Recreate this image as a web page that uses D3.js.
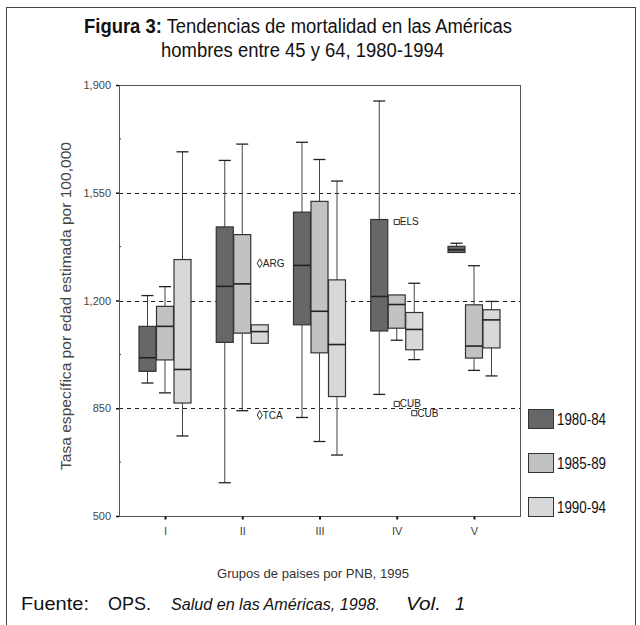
<!DOCTYPE html>
<html>
<head>
<meta charset="utf-8">
<script src="https://cdn.jsdelivr.net/npm/d3@7"></script>
<style>
  body { margin: 0; background: #fff; }
  svg { display: block; }
</style>
</head>
<body>
<div id="chart-area"></div>
<script>
// mortality box plot, groups of countries by GNP

const categories = ['I', 'II', 'III', 'IV', 'V'];
const periods = ['1980-84', '1985-89', '1990-94'];
const yTicks = [500, 850, 1200, 1550, 1900];
const yMinor = [675, 1025, 1375, 1725];
const refLines = [850, 1200, 1550];

// [whisker low, q1, median, q3, whisker high] per category
const stats8084 = [
  [932, 970, 1014, 1116, 1216],
  [608, 1064, 1246, 1439, 1655],
  [820, 1121, 1314, 1487, 1714],
  [895, 1101, 1213, 1463, 1848],
  [1356, 1356, 1365, 1376, 1386]
];
const stats8589 = [
  [900, 1007, 1116, 1181, 1245],
  [842, 1094, 1254, 1414, 1708],
  [742, 1030, 1165, 1522, 1658],
  [1071, 1110, 1187, 1218, 1218],
  [973, 1013, 1052, 1186, 1313]
];
const stats9094 = [
  [760, 867, 976, 1333, 1683],
  [1061, 1061, 1099, 1121, 1121],
  [698, 888, 1057, 1267, 1588],
  [1008, 1040, 1106, 1161, 1256],
  [955, 1046, 1137, 1170, 1197]
];

const outliers = [
  { cat: 'II', period: 2, value: 1321, label: 'ARG', shape: 'diamond' },
  { cat: 'II', period: 2, value: 828, label: 'TCA', shape: 'diamond' },
  { cat: 'IV', period: 1, value: 1455, label: 'ELS', shape: 'square' },
  { cat: 'IV', period: 1, value: 864, label: 'CUB', shape: 'square' },
  { cat: 'IV', period: 2, value: 834, label: 'CUB', shape: 'square' }
];

const widthSvg = 640;
const heightSvg = 625;
const plot = { left: 119, right: 520, top: 85, bottom: 516 };
const fills = ['#676767', '#c2c2c2', '#d8d8d8'];
const boxW = 17;
const offsets = [-17.5, 0, 17.5];
const capW = 12;
const font = "'Liberation Sans', Arial, sans-serif";

const allStats = [stats8084, stats8589, stats9094];

const scaleY = d3.scaleLinear()
  .domain([500, 1900])
  .range([plot.bottom, plot.top]);

const scaleX = d3.scalePoint()
  .domain(categories)
  .range([165, 474]);

const svg = d3.select('#chart-area')
  .append('svg')
    .attr('width', widthSvg)
    .attr('height', heightSvg)
    .attr('font-family', font);

// squeezes a text to the width it has in the original
const fit = (sel, len) => sel
  .attr('textLength', len)
  .attr('lengthAdjust', 'spacingAndGlyphs');

// outer frame
svg.append('rect')
  .attr('x', 6.5)
  .attr('y', 7.5)
  .attr('width', 629)
  .attr('height', 640)
  .attr('fill', 'none')
  .attr('stroke', '#444');

// title
const title1 = svg.append('text')
  .attr('x', 84)
  .attr('y', 33)
  .attr('font-size', 20)
  .attr('fill', '#111');
title1.append('tspan')
  .attr('font-weight', 'bold')
  .text('Figura 3:');
title1.append('tspan')
  .text(' Tendencias de mortalidad en las Américas');
fit(title1, 428);

fit(svg.append('text')
  .attr('x', 161)
  .attr('y', 57)
  .attr('font-size', 20)
  .attr('fill', '#111')
  .text('hombres entre 45 y 64, 1980-1994'), 283);

// reference lines
svg.append('g')
  .selectAll('line')
  .data(refLines)
  .join('line')
    .attr('x1', plot.left)
    .attr('x2', plot.right)
    .attr('y1', d => Math.round(scaleY(d)) + 0.5)
    .attr('y2', d => Math.round(scaleY(d)) + 0.5)
    .attr('stroke', '#222')
    .attr('stroke-dasharray', '4,4');

// plot frame
svg.append('rect')
  .attr('x', plot.left + 0.5)
  .attr('y', plot.top + 0.5)
  .attr('width', plot.right - plot.left)
  .attr('height', plot.bottom - plot.top)
  .attr('fill', 'none')
  .attr('stroke', '#555');

// boxes
allStats.forEach((stats, p) => {
  const g = svg.append('g');
  stats.forEach((s, i) => {
    const [lo, q1, med, q3, hi] = s;
    const cx = scaleX(categories[i]) + offsets[p];

    // whiskers
    [[q3, hi], [q1, lo]].forEach(([from, to]) => {
      if (from === to) return;
      g.append('line')
        .attr('x1', cx).attr('x2', cx)
        .attr('y1', scaleY(from)).attr('y2', scaleY(to))
        .attr('stroke', '#444');
      g.append('line')
        .attr('x1', cx - capW / 2).attr('x2', cx + capW / 2)
        .attr('y1', scaleY(to)).attr('y2', scaleY(to))
        .attr('stroke', '#222')
        .attr('stroke-width', 1.3);
    });

    g.append('rect')
      .attr('x', cx - boxW / 2)
      .attr('y', scaleY(q3))
      .attr('width', boxW)
      .attr('height', scaleY(q1) - scaleY(q3))
      .attr('fill', fills[p])
      .attr('stroke', '#333')
      .attr('stroke-width', 1.2);

    g.append('line')
      .attr('x1', cx - boxW / 2).attr('x2', cx + boxW / 2)
      .attr('y1', scaleY(med)).attr('y2', scaleY(med))
      .attr('stroke', '#222')
      .attr('stroke-width', 1.6);
  });
});

// outliers
const outG = svg.append('g');
outliers.forEach(o => {
  const cx = scaleX(o.cat) + offsets[o.period];
  const cy = scaleY(o.value);
  const sym = o.shape === 'diamond' ? d3.symbolDiamond : d3.symbolSquare;
  outG.append('path')
    .attr('d', d3.symbol(sym, o.shape === 'diamond' ? 22 : 26)())
    .attr('transform', `translate(${cx}, ${cy})`)
    .attr('fill', 'none')
    .attr('stroke', '#333');
  outG.append('text')
    .attr('x', cx + 3)
    .attr('y', cy + 3.5)
    .attr('font-size', 10)
    .attr('fill', '#222')
    .text(o.label);
});

// y axis
const axisY = d3.axisLeft(scaleY)
  .tickValues(yTicks)
  .tickSize(3)
  .tickPadding(5)
  .tickFormat(d3.format(',.0f'));

const gY = svg.append('g')
  .attr('transform', `translate(${plot.left}, 0)`)
  .call(axisY);
gY.select('.domain').remove();
gY.selectAll('.tick line').attr('stroke', '#111').attr('stroke-width', 1.5);
gY.selectAll('.tick text')
  .attr('font-family', font)
  .attr('font-size', 11)
  .attr('fill', '#444');

svg.append('g')
  .selectAll('line')
  .data(yMinor)
  .join('line')
    .attr('x1', plot.left)
    .attr('x2', plot.left + 2)
    .attr('y1', d => scaleY(d))
    .attr('y2', d => scaleY(d))
    .attr('stroke', '#333');

// x axis
const axisX = d3.axisBottom(scaleX)
  .tickSize(3)
  .tickPadding(8);

const gX = svg.append('g')
  .attr('transform', `translate(0, ${plot.bottom + 0.5})`)
  .call(axisX);
gX.select('.domain').remove();
gX.selectAll('.tick line').attr('stroke', '#111').attr('stroke-width', 2);
gX.selectAll('.tick text')
  .attr('font-family', font)
  .attr('font-size', 11)
  .attr('fill', '#444');

// axis labels
fit(svg.append('text')
  .text('Tasa específica por edad estimada por 100,000')
    .attr('text-anchor', 'middle')
    .attr('font-size', 14)
    .attr('fill', '#444')
    .attr('transform', `translate(71, 306)rotate(-90)`), 328);

fit(svg.append('text')
  .text('Grupos de paises por PNB, 1995')
    .attr('x', 313)
    .attr('y', 578)
    .attr('text-anchor', 'middle')
    .attr('font-size', 13)
    .attr('fill', '#333'), 192);

// legend
const legend = svg.append('g')
  .attr('transform', 'translate(528, 409)');

periods.forEach((period, i) => {
  const row = legend.append('g')
    .attr('transform', `translate(0, ${i * 44})`);
  row.append('rect')
    .attr('x', 0.5)
    .attr('y', 0.5)
    .attr('width', 25)
    .attr('height', 19)
    .attr('fill', fills[i])
    .attr('stroke', '#333');
  fit(row.append('text')
    .attr('x', 29)
    .attr('y', 16)
    .attr('font-size', 16)
    .attr('fill', '#111')
    .text(period), 49);
});

// source
const sourceParts = [
  { text: 'Fuente:', x: 21, len: 68, size: 19, italic: false },
  { text: 'OPS.', x: 108, len: 43, size: 19, italic: false },
  { text: 'Salud en las Américas, 1998.', x: 171, len: 209, size: 17, italic: true },
  { text: 'Vol.', x: 406, len: 35, size: 19, italic: true },
  { text: '1', x: 455, len: 10, size: 19, italic: true }
];
sourceParts.forEach(part => {
  fit(svg.append('text')
    .attr('x', part.x)
    .attr('y', 610)
    .attr('font-size', part.size)
    .attr('font-style', part.italic ? 'italic' : 'normal')
    .attr('fill', '#111')
    .text(part.text), part.len);
});
</script>
</body>
</html>
